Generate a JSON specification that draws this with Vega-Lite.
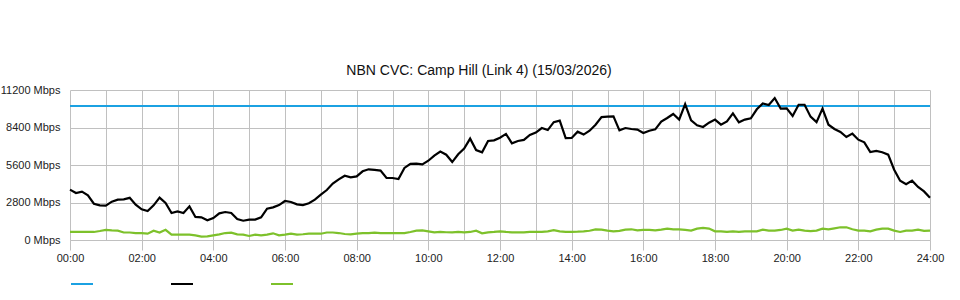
{
  "$schema": "https://vega.github.io/schema/vega-lite/v6.json",
  "width": 860,
  "height": 150,
  "autosize": {"type": "none"},
  "padding": {"left": 70, "top": 90, "right": 30, "bottom": 60},
  "background": "white",
  "config": {
    "font": "Liberation Sans",
    "view": {"stroke": null},
    "axis": {"labelOverlap": false}
  },
  "title": {
    "text": "NBN CVC: Camp Hill (Link 4) (15/03/2026)",
    "fontSize": 14,
    "fontWeight": "normal",
    "color": "#111",
    "anchor": "middle",
    "frame": "group",
    "dx": -21,
    "baseline": "alphabetic",
    "offset": -5
  },
  "data": {
    "values": [
      {"m":0,"Inbound":3760,"Outbound":600},{"m":10,"Inbound":3510,"Outbound":600},{"m":20,"Inbound":3610,"Outbound":600},{"m":30,"Inbound":3340,"Outbound":600},{"m":40,"Inbound":2710,"Outbound":600},{"m":50,"Inbound":2590,"Outbound":670},{"m":60,"Inbound":2560,"Outbound":760},{"m":70,"Inbound":2860,"Outbound":720},{"m":80,"Inbound":3010,"Outbound":700},{"m":90,"Inbound":3040,"Outbound":560},{"m":100,"Inbound":3150,"Outbound":560},{"m":110,"Inbound":2640,"Outbound":520},{"m":120,"Inbound":2290,"Outbound":510},{"m":130,"Inbound":2170,"Outbound":470},{"m":140,"Inbound":2590,"Outbound":690},{"m":150,"Inbound":3160,"Outbound":560},{"m":160,"Inbound":2760,"Outbound":760},{"m":170,"Inbound":2020,"Outbound":400},{"m":180,"Inbound":2140,"Outbound":400},{"m":190,"Inbound":2020,"Outbound":400},{"m":200,"Inbound":2510,"Outbound":400},{"m":210,"Inbound":1720,"Outbound":350},{"m":220,"Inbound":1690,"Outbound":250},{"m":230,"Inbound":1470,"Outbound":270},{"m":240,"Inbound":1640,"Outbound":350},{"m":250,"Inbound":1990,"Outbound":420},{"m":260,"Inbound":2090,"Outbound":520},{"m":270,"Inbound":2020,"Outbound":550},{"m":280,"Inbound":1570,"Outbound":420},{"m":290,"Inbound":1440,"Outbound":400},{"m":300,"Inbound":1520,"Outbound":300},{"m":310,"Inbound":1520,"Outbound":400},{"m":320,"Inbound":1690,"Outbound":350},{"m":330,"Inbound":2340,"Outbound":400},{"m":340,"Inbound":2440,"Outbound":500},{"m":350,"Inbound":2610,"Outbound":350},{"m":360,"Inbound":2910,"Outbound":400},{"m":370,"Inbound":2840,"Outbound":470},{"m":380,"Inbound":2660,"Outbound":400},{"m":390,"Inbound":2610,"Outbound":430},{"m":400,"Inbound":2740,"Outbound":470},{"m":410,"Inbound":3010,"Outbound":470},{"m":420,"Inbound":3390,"Outbound":470},{"m":430,"Inbound":3730,"Outbound":560},{"m":440,"Inbound":4210,"Outbound":560},{"m":450,"Inbound":4530,"Outbound":520},{"m":460,"Inbound":4800,"Outbound":450},{"m":470,"Inbound":4680,"Outbound":420},{"m":480,"Inbound":4750,"Outbound":480},{"m":490,"Inbound":5130,"Outbound":520},{"m":500,"Inbound":5280,"Outbound":520},{"m":510,"Inbound":5230,"Outbound":550},{"m":520,"Inbound":5180,"Outbound":520},{"m":530,"Inbound":4630,"Outbound":520},{"m":540,"Inbound":4630,"Outbound":520},{"m":550,"Inbound":4550,"Outbound":520},{"m":560,"Inbound":5380,"Outbound":520},{"m":570,"Inbound":5680,"Outbound":600},{"m":580,"Inbound":5700,"Outbound":700},{"m":590,"Inbound":5650,"Outbound":720},{"m":600,"Inbound":5920,"Outbound":650},{"m":610,"Inbound":6300,"Outbound":570},{"m":620,"Inbound":6600,"Outbound":600},{"m":630,"Inbound":6370,"Outbound":580},{"m":640,"Inbound":5820,"Outbound":570},{"m":650,"Inbound":6400,"Outbound":600},{"m":660,"Inbound":6820,"Outbound":570},{"m":670,"Inbound":7570,"Outbound":600},{"m":680,"Inbound":6720,"Outbound":700},{"m":690,"Inbound":6550,"Outbound":500},{"m":700,"Inbound":7390,"Outbound":570},{"m":710,"Inbound":7440,"Outbound":600},{"m":720,"Inbound":7640,"Outbound":650},{"m":730,"Inbound":7920,"Outbound":600},{"m":740,"Inbound":7220,"Outbound":570},{"m":750,"Inbound":7390,"Outbound":570},{"m":760,"Inbound":7470,"Outbound":570},{"m":770,"Inbound":7840,"Outbound":600},{"m":780,"Inbound":8020,"Outbound":600},{"m":790,"Inbound":8360,"Outbound":600},{"m":800,"Inbound":8210,"Outbound":650},{"m":810,"Inbound":8800,"Outbound":740},{"m":820,"Inbound":8910,"Outbound":640},{"m":830,"Inbound":7600,"Outbound":600},{"m":840,"Inbound":7620,"Outbound":600},{"m":850,"Inbound":8090,"Outbound":620},{"m":860,"Inbound":7870,"Outbound":650},{"m":870,"Inbound":8160,"Outbound":690},{"m":880,"Inbound":8610,"Outbound":790},{"m":890,"Inbound":9180,"Outbound":770},{"m":900,"Inbound":9210,"Outbound":700},{"m":910,"Inbound":9230,"Outbound":650},{"m":920,"Inbound":8190,"Outbound":680},{"m":930,"Inbound":8360,"Outbound":770},{"m":940,"Inbound":8290,"Outbound":800},{"m":950,"Inbound":8240,"Outbound":720},{"m":960,"Inbound":7990,"Outbound":750},{"m":970,"Inbound":8160,"Outbound":750},{"m":980,"Inbound":8260,"Outbound":720},{"m":990,"Inbound":8840,"Outbound":780},{"m":1000,"Inbound":9110,"Outbound":850},{"m":1010,"Inbound":9410,"Outbound":800},{"m":1020,"Inbound":8990,"Outbound":800},{"m":1030,"Inbound":10150,"Outbound":750},{"m":1040,"Inbound":8930,"Outbound":700},{"m":1050,"Inbound":8560,"Outbound":850},{"m":1060,"Inbound":8440,"Outbound":900},{"m":1070,"Inbound":8760,"Outbound":850},{"m":1080,"Inbound":8990,"Outbound":650},{"m":1090,"Inbound":8610,"Outbound":650},{"m":1100,"Inbound":8860,"Outbound":600},{"m":1110,"Inbound":9460,"Outbound":650},{"m":1120,"Inbound":8790,"Outbound":600},{"m":1130,"Inbound":8990,"Outbound":650},{"m":1140,"Inbound":9090,"Outbound":650},{"m":1150,"Inbound":9760,"Outbound":650},{"m":1160,"Inbound":10200,"Outbound":770},{"m":1170,"Inbound":10080,"Outbound":700},{"m":1180,"Inbound":10600,"Outbound":700},{"m":1190,"Inbound":9810,"Outbound":750},{"m":1200,"Inbound":9830,"Outbound":850},{"m":1210,"Inbound":9260,"Outbound":700},{"m":1220,"Inbound":10100,"Outbound":770},{"m":1230,"Inbound":10100,"Outbound":700},{"m":1240,"Inbound":9210,"Outbound":660},{"m":1250,"Inbound":8800,"Outbound":700},{"m":1260,"Inbound":9810,"Outbound":850},{"m":1270,"Inbound":8610,"Outbound":800},{"m":1280,"Inbound":8290,"Outbound":870},{"m":1290,"Inbound":8070,"Outbound":950},{"m":1300,"Inbound":7690,"Outbound":950},{"m":1310,"Inbound":7940,"Outbound":800},{"m":1320,"Inbound":7490,"Outbound":700},{"m":1330,"Inbound":7290,"Outbound":700},{"m":1340,"Inbound":6570,"Outbound":650},{"m":1350,"Inbound":6650,"Outbound":770},{"m":1360,"Inbound":6550,"Outbound":850},{"m":1370,"Inbound":6370,"Outbound":850},{"m":1380,"Inbound":5250,"Outbound":700},{"m":1390,"Inbound":4430,"Outbound":600},{"m":1400,"Inbound":4160,"Outbound":700},{"m":1410,"Inbound":4430,"Outbound":700},{"m":1420,"Inbound":3960,"Outbound":770},{"m":1430,"Inbound":3630,"Outbound":680},{"m":1440,"Inbound":3150,"Outbound":700}
    ]
  },
  "layer": [
    {
      "mark": {"type": "rule", "color": "#1ba1e2", "strokeWidth": 2},
      "encoding": {
        "y": {"datum": 10000, "type": "quantitative"}
      }
    },
    {
      "transform": [{"fold": ["Inbound", "Outbound"], "as": ["series", "value"]}],
      "mark": {"type": "line", "strokeWidth": 2.2},
      "encoding": {
        "x": {
          "field": "m",
          "type": "quantitative",
          "scale": {"domain": [0, 1440], "nice": false, "zero": false},
          "axis": {
            "title": null,
            "values": [0,60,120,180,240,300,360,420,480,540,600,660,720,780,840,900,960,1020,1080,1140,1200,1260,1320,1380,1440],
            "tickCount": 30,
            "labelExpr": "datum.value % 120 === 0 ? (datum.value < 600 ? '0' : '') + (datum.value / 60) + ':00' : ''",
            "labelOverlap": false,
            "labelFlush": false,
            "labelFontSize": 11,
            "labelColor": "#222",
            "labelPadding": 2,
            "tickSize": 10,
            "tickColor": "#c0c0c0",
            "tickOpacity": {"condition": {"test": "datum.value % 120 === 0", "value": 1}, "value": 0},
            "domainColor": "#c0c0c0",
            "grid": true,
            "gridColor": "#c0c0c0",
            "gridOpacity": 1
          }
        },
        "y": {
          "field": "value",
          "type": "quantitative",
          "scale": {"domain": [0, 11200], "nice": false},
          "axis": {
            "title": null,
            "values": [0, 2800, 5600, 8400, 11200],
            "tickCount": 10,
            "labelExpr": "datum.value + ' Mbps'",
            "labelOverlap": false,
            "labelFontSize": 11,
            "labelColor": "#222",
            "labelPadding": 10,
            "ticks": false,
            "tickSize": 0,
            "domain": false,
            "grid": true,
            "gridColor": "#c0c0c0",
            "gridOpacity": 1
          }
        },
        "color": {
          "field": "series",
          "type": "nominal",
          "scale": {"domain": ["Capacity", "Inbound", "Outbound"], "range": ["#1ba1e2", "#000000", "#7dc12b"]},
          "legend": {
            "title": null,
            "orient": "bottom",
            "direction": "horizontal",
            "symbolType": "stroke",
            "symbolSize": 484,
            "symbolStrokeWidth": 2,
            "labelExpr": "''",
            "labelOffset": 0,
            "columnPadding": 70,
            "offset": 9,
            "padding": 0,
            "values": ["Capacity", "Inbound", "Outbound"]
          }
        }
      }
    }
  ]
}
